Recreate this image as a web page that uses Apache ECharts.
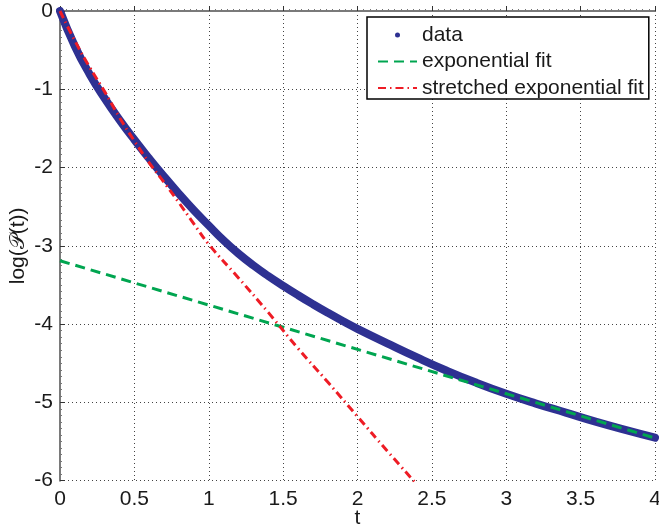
<!DOCTYPE html>
<html>
<head>
<meta charset="utf-8">
<script src="https://cdn.jsdelivr.net/npm/echarts@6/dist/echarts.min.js"></script>
<style>
html,body{margin:0;padding:0;background:#fff;}
#chart{width:659px;height:531px;}
</style>
</head>
<body>
<div id="chart"></div>
<script>
// measured data curve log(P(t))
const dataT = [0, 0.1, 0.2, 0.3, 0.4, 0.5, 0.6, 0.7, 0.8, 0.9, 1.0, 1.1, 1.2, 1.3, 1.4, 1.5, 1.6, 1.7, 1.8, 1.9, 2.0, 2.2, 2.4, 2.6, 2.8, 3.0, 3.2, 3.4, 3.6, 3.8, 4.0];
const dataY = [0, -0.45, -0.81, -1.115, -1.39, -1.645, -1.885, -2.115, -2.335, -2.545, -2.74, -2.93, -3.10, -3.25, -3.385, -3.51, -3.63, -3.745, -3.855, -3.96, -4.06, -4.245, -4.425, -4.595, -4.75, -4.89, -5.015, -5.13, -5.245, -5.35, -5.45];
// exponential fit (straight line in log scale)
const expT = [0, 4];
const expY = [-3.19, -5.455];
// stretched exponential fit
const strT = [0, 0.1, 0.2, 0.3, 0.4, 0.5, 0.6, 0.7, 0.8, 0.9, 1.0, 1.2, 1.4, 1.6, 1.8, 2.0, 2.2, 2.4];
const strY = [0, -0.38, -0.72, -1.03, -1.36, -1.66, -1.94, -2.19, -2.45, -2.72, -2.98, -3.41, -3.85, -4.31, -4.74, -5.18, -5.62, -6.05];

const xTicks = ['0', '0.5', '1', '1.5', '2', '2.5', '3', '3.5', '4'];
const yTicks = ['0', '-1', '-2', '-3', '-4', '-5', '-6'];
const seriesNames = ['data', 'exponential fit', 'stretched exponential fit'];

const FONT = '"Liberation Sans", Arial, Helvetica, sans-serif';
const pairs = (xs, ys) => xs.map((x, i) => [x, ys[i]]);

const chart = echarts.init(document.getElementById('chart'), null, {renderer: 'canvas'});
chart.setOption({
  animation: false,
  backgroundColor: '#fff',
  grid: {left: 60, right: 4, top: 11, bottom: 50.3, containLabel: false, outerBoundsMode: 'none'},
  legend: {
    orient: 'vertical',
    left: 367,
    top: 17,
    padding: [7.5, 5, 0.5, 10],
    itemWidth: 39,
    itemHeight: 5,
    itemGap: 5.5,
    borderColor: '#000',
    borderWidth: 1.5,
    backgroundColor: '#fff',
    textStyle: {fontFamily: FONT, fontSize: 21, color: '#1a1a1a'},
    data: [
      {name: seriesNames[0], icon: 'circle', itemStyle: {color: '#2e3192', borderWidth: 0}},
      {name: seriesNames[1], itemStyle: {opacity: 0, borderWidth: 0}},
      {name: seriesNames[2], itemStyle: {opacity: 0, borderWidth: 0}}
    ]
  },
  xAxis: {
    type: 'value',
    min: 0, max: 4, interval: 0.5,
    name: 't',
    nameLocation: 'middle',
    nameGap: 27,
    nameMoveOverlap: false,
    nameTextStyle: {fontFamily: FONT, fontSize: 21, color: '#1a1a1a'},
    axisLine: {lineStyle: {color: '#7a7a7a', width: 2}},
    axisTick: {inside: true, length: 5, lineStyle: {color: '#333', width: 1}},
    minorTick: {show: true, splitNumber: 12, length: 2, lineStyle: {color: '#777', width: 1}},
    axisLabel: {
      fontFamily: FONT, fontSize: 21, color: '#1a1a1a', margin: 8,
      formatter: v => xTicks[Math.round(v / 0.5)]
    },
    splitLine: {show: true, lineStyle: {color: '#444', width: 1, type: [1, 3]}}
  },
  yAxis: {
    type: 'value',
    min: -6, max: 0, interval: 1,
    name: 'log(𝒫(t))',
    nameLocation: 'middle',
    nameRotate: 90,
    nameGap: 31,
    nameMoveOverlap: false,
    nameTextStyle: {fontFamily: FONT, fontSize: 21, color: '#1a1a1a'},
    axisLine: {onZero: false, lineStyle: {color: '#7a7a7a', width: 2}},
    axisTick: {inside: true, length: 5, lineStyle: {color: '#333', width: 1}},
    minorTick: {show: true, splitNumber: 12, length: 2, lineStyle: {color: '#777', width: 1}},
    axisLabel: {
      fontFamily: FONT, fontSize: 21, color: '#1a1a1a', margin: 7,
      formatter: v => yTicks[Math.round(-v)]
    },
    splitLine: {show: true, lineStyle: {color: '#444', width: 1, type: [1, 3]}}
  },
  series: [
    {
      name: seriesNames[0], type: 'line', data: pairs(dataT, dataY),
      symbol: 'none', smooth: true, clip: true,
      itemStyle: {color: '#2e3192'},
      lineStyle: {color: '#2e3192', width: 8, cap: 'round', join: 'round'}
    },
    {
      name: seriesNames[1], type: 'line', data: pairs(expT, expY),
      symbol: 'none', clip: true,
      itemStyle: {color: '#00a550'},
      lineStyle: {color: '#00a550', width: 3, type: [10, 6]}
    },
    {
      name: seriesNames[2], type: 'line', data: pairs(strT, strY),
      symbol: 'none', smooth: true, clip: true,
      itemStyle: {color: '#ee1c25'},
      lineStyle: {color: '#ee1c25', width: 3, type: [8, 4, 1.5, 4]}
    }
  ]
});
</script>
</body>
</html>
